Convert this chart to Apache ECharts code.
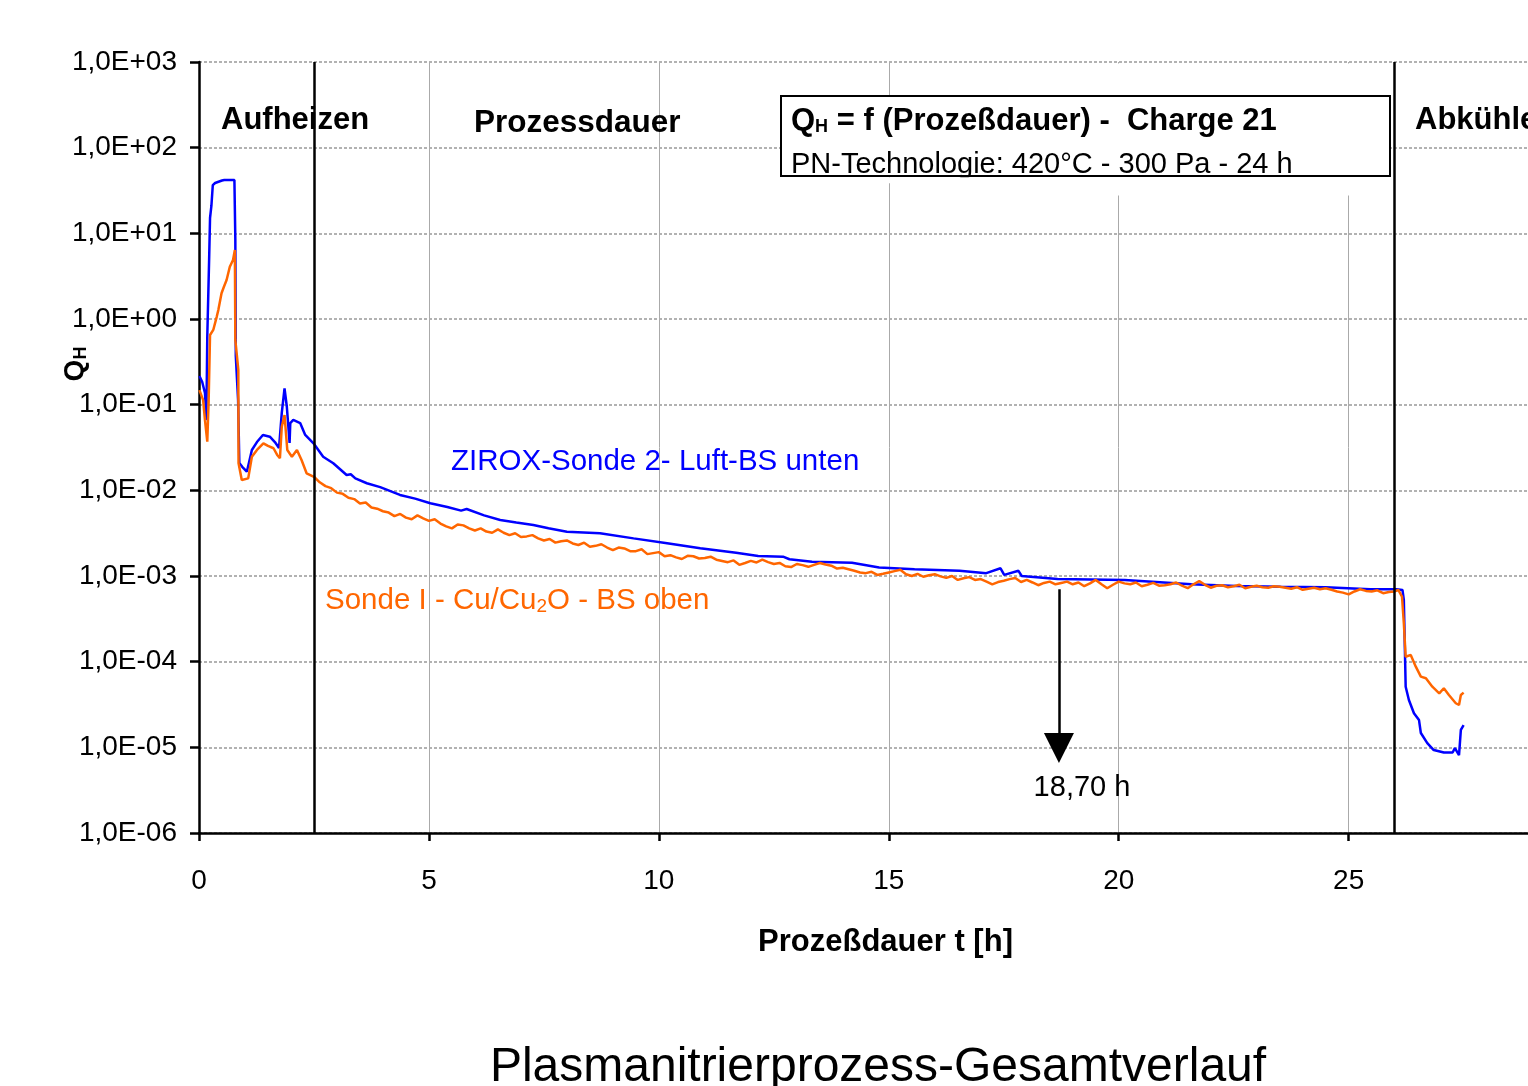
<!DOCTYPE html>
<html>
<head>
<meta charset="utf-8">
<script src="https://cdn.jsdelivr.net/npm/echarts@6/dist/echarts.min.js"></script>
<style>html,body{margin:0;padding:0;background:#fff;}#c{width:1528px;height:1086px;}</style>
</head>
<body>
<div id="c"></div>
<script>
// ---- Data (Q_H vs process time t [h]) ----
const tBlue = [0.01,0.07,0.13,0.16,0.18,0.22,0.24,0.27,0.30,0.35,0.50,0.55,0.65,0.77,0.79,0.80,0.85,0.877,0.94,1.04,1.09,1.15,1.26,1.39,1.54,1.65,1.74,1.77,1.80,1.86,1.91,1.97,1.985,2.05,2.20,2.31,2.49,2.70,2.92,3.21,3.30,3.40,3.65,3.94,4.37,4.70,5.03,5.40,5.70,5.82,6.20,6.55,6.90,7.27,7.60,8.00,8.72,9.45,10.18,10.90,11.68,12.16,12.70,12.84,13.33,14.20,14.79,15.56,16.54,17.12,17.43,17.51,17.82,17.89,18.67,20.13,21.58,22.56,23.52,24.50,25.47,26.04,26.17,26.20,26.24,26.31,26.42,26.53,26.57,26.71,26.85,27.07,27.26,27.31,27.40,27.44,27.50];
const qBlue = [0.216,0.184,0.137,0.066,0.62,4.9,15.1,21,36.6,38.7,41.4,42,42,42,8.4,0.37,0.113,0.0209,0.0188,0.0165,0.0214,0.0296,0.0366,0.0443,0.0423,0.0366,0.0312,0.0296,0.080,0.155,0.0946,0.0357,0.061,0.0663,0.061,0.0443,0.0354,0.0247,0.0207,0.0151,0.0154,0.0138,0.0121,0.0109,0.00883,0.0080,0.00706,0.0064,0.0058,0.00605,0.0051,0.00451,0.0042,0.00394,0.0036,0.00329,0.00315,0.00275,0.00241,0.00211,0.00187,0.00171,0.00168,0.00157,0.00147,0.00143,0.00126,0.0012,0.00115,0.00108,0.00123,0.00103,0.00115,0.001,0.000923,0.000898,0.0008,0.000764,0.00075,0.000738,0.0007,0.0007,0.000687,0.000525,5.1e-5,3.57e-5,2.5e-5,2.08e-5,1.47e-5,1.12e-5,9.3e-6,8.7e-6,8.7e-6,9.8e-6,8.1e-6,1.6e-5,1.82e-5];

const tOrange = [0.01,0.09,0.13,0.18,0.21,0.24,0.31,0.385,0.42,0.49,0.54,0.60,0.67,0.74,0.78,0.79,0.855,0.86,0.93,1.07,1.15,1.26,1.40,1.50,1.62,1.70,1.76,1.80,1.86,1.92,2.02,2.13,2.23,2.34,
  2.5,2.625,2.75,2.875,3,3.125,3.25,3.375,3.5,3.625,3.75,3.875,4,4.125,4.25,4.375,4.5,4.625,4.75,4.875,
  5,5.125,5.25,5.375,5.5,5.625,5.75,5.875,6,6.125,6.25,6.375,6.5,6.625,6.75,6.875,7,7.125,7.25,7.375,7.5,7.625,7.75,7.875,
  8,8.125,8.25,8.375,8.5,8.625,8.75,8.875,9,9.125,9.25,9.375,9.5,9.625,9.75,9.875,10,10.125,10.25,10.375,10.5,10.625,10.75,10.875,
  11,11.125,11.25,11.375,11.5,11.625,11.75,11.875,12,12.125,12.25,12.375,12.5,12.625,12.75,12.875,13,13.125,13.25,13.375,13.5,13.625,13.75,13.875,
  14,14.125,14.25,14.375,14.5,14.625,14.75,14.875,15,15.125,15.25,15.375,15.5,15.625,15.75,15.875,16,16.125,16.25,16.375,16.5,16.625,16.75,16.875,
  17,17.125,17.25,17.375,17.5,17.625,17.75,17.875,18,18.125,18.25,18.375,18.5,18.625,18.75,18.875,19,19.125,19.25,19.375,19.5,19.625,19.75,19.875,
  20,20.125,20.25,20.375,20.5,20.625,20.75,20.875,21,21.125,21.25,21.375,21.5,21.625,21.75,21.875,22,22.125,22.25,22.375,22.5,22.625,22.75,22.875,
  23,23.125,23.25,23.375,23.5,23.625,23.75,23.875,24,24.125,24.25,24.375,24.5,24.625,24.75,24.875,25,25.125,25.25,25.375,25.5,25.625,25.75,25.875,26,
  26.08,26.16,26.20,26.24,26.35,26.46,26.57,26.68,26.82,26.97,27.07,27.18,27.33,27.40,27.44,27.50];
const qOrange = [0.148,0.113,0.066,0.037,0.113,0.65,0.745,1.06,1.27,2.0,2.36,2.85,4.08,4.89,6.4,0.569,0.254,0.0207,0.0132,0.0138,0.0247,0.0296,0.0354,0.033,0.031,0.0259,0.0237,0.0553,0.0758,0.0296,0.0247,0.0296,0.0226,0.0158,
  14.4e-3,12.4e-3,11.2e-3,10.6e-3,9.4e-3,9.1e-3,8.2e-3,7.9e-3,7.0e-3,7.2e-3,6.3e-3,6.1e-3,5.7e-3,5.5e-3,5.0e-3,5.3e-3,4.8e-3,4.6e-3,5.1e-3,4.7e-3,
  4.4e-3,4.6e-3,4.1e-3,3.8e-3,3.6e-3,4.0e-3,3.9e-3,3.6e-3,3.4e-3,3.6e-3,3.3e-3,3.2e-3,3.5e-3,3.2e-3,3.0e-3,3.15e-3,2.85e-3,2.9e-3,3.0e-3,2.75e-3,2.6e-3,2.7e-3,2.45e-3,2.55e-3,
  2.6e-3,2.4e-3,2.3e-3,2.45e-3,2.2e-3,2.25e-3,2.35e-3,2.15e-3,2.0e-3,2.15e-3,2.1e-3,1.95e-3,1.95e-3,2.05e-3,1.8e-3,1.85e-3,1.9e-3,1.7e-3,1.75e-3,1.65e-3,1.58e-3,1.72e-3,1.7e-3,1.6e-3,
  1.62e-3,1.68e-3,1.55e-3,1.5e-3,1.45e-3,1.52e-3,1.35e-3,1.42e-3,1.5e-3,1.44e-3,1.55e-3,1.45e-3,1.38e-3,1.42e-3,1.3e-3,1.27e-3,1.38e-3,1.34e-3,1.28e-3,1.35e-3,1.42e-3,1.36e-3,1.32e-3,1.22e-3,
  1.25e-3,1.2e-3,1.15e-3,1.1e-3,1.08e-3,1.12e-3,1.03e-3,1.06e-3,1.1e-3,1.14e-3,1.18e-3,1.05e-3,1.0e-3,1.06e-3,0.98e-3,1.02e-3,1.05e-3,0.99e-3,0.95e-3,1.0e-3,0.9e-3,0.94e-3,0.97e-3,0.9e-3,
  0.92e-3,0.86e-3,0.8e-3,0.85e-3,0.88e-3,0.92e-3,0.95e-3,0.85e-3,0.9e-3,0.84e-3,0.78e-3,0.83e-3,0.86e-3,0.8e-3,0.83e-3,0.86e-3,0.8e-3,0.84e-3,0.76e-3,0.82e-3,0.9e-3,0.8e-3,0.72e-3,0.79e-3,
  0.86e-3,0.82e-3,0.8e-3,0.84e-3,0.76e-3,0.79e-3,0.83e-3,0.77e-3,0.78e-3,0.8e-3,0.84e-3,0.77e-3,0.72e-3,0.8e-3,0.87e-3,0.79e-3,0.73e-3,0.77e-3,0.78e-3,0.74e-3,0.76e-3,0.79e-3,0.72e-3,0.75e-3,
  0.77e-3,0.74e-3,0.73e-3,0.76e-3,0.75e-3,0.73e-3,0.71e-3,0.74e-3,0.69e-3,0.71e-3,0.73e-3,0.7e-3,0.72e-3,0.69e-3,0.66e-3,0.64e-3,0.61e-3,0.66e-3,0.7e-3,0.67e-3,0.66e-3,0.68e-3,0.63e-3,0.65e-3,0.66e-3,
  0.000687,0.000574,0.000281,0.000114,0.00012,8.75e-5,6.68e-5,6.4e-5,5.1e-5,4.27e-5,4.89e-5,4.08e-5,3.27e-5,3.12e-5,4.08e-5,4.35e-5];

const yTickLabels = ['1,0E-06','1,0E-05','1,0E-04','1,0E-03','1,0E-02','1,0E-01','1,0E+00','1,0E+01','1,0E+02','1,0E+03'];
const phaseBounds = [2.5, 26];          // Aufheizen | Prozessdauer | Abkühlen
const markTime = 18.70;                 // arrow marker
const arrowFrom = 7.0e-4, arrowTo = 9.8e-6;

const seriesNames = ['ZIROX-Sonde 2- Luft-BS unten', 'Sonde I - Cu/Cu2O - BS oben'];

const FONT = '"Liberation Sans", Arial, sans-serif';
const chart = echarts.init(document.getElementById('c'), null, {renderer: 'canvas'});

const option = {
  animation: false,
  backgroundColor: '#fff',
  grid: {left: 199, top: 62, right: 0, height: 771, containLabel: false},
  xAxis: {
    type: 'value', min: 0, max: 28.9, interval: 5,
    name: 'Prozeßdauer t [h]', nameLocation: 'middle', nameGap: 94,
    nameTextStyle: {fontFamily: FONT, fontSize: 31, fontWeight: 'bold', color: '#000', padding: [0, 0, 0, 44]},
    axisLine: {show: true, lineStyle: {color: '#000', width: 2.5}},
    axisTick: {show: true, inside: false, length: 8, lineStyle: {color: '#000', width: 2.5}},
    axisLabel: {fontFamily: FONT, fontSize: 28, color: '#000', margin: 34, showMaxLabel: false,
      formatter: v => (Math.abs(v % 5) < 1e-9 ? String(v) : '')},
    splitLine: {show: true, lineStyle: {color: '#aaa', width: 1}}
  },
  yAxis: {
    type: 'log', logBase: 10, min: 1e-6, max: 1e3, interval: 1,
    axisLine: {show: true, lineStyle: {color: '#000', width: 2.5}},
    axisTick: {show: true, inside: false, length: 9, lineStyle: {color: '#000', width: 2.5}},
    axisLabel: {fontFamily: FONT, fontSize: 28, color: '#000', margin: 22,
      formatter: v => yTickLabels[Math.round(Math.log10(v)) + 6]},
    splitLine: {show: true, lineStyle: {color: '#999', width: 1.5, type: [3, 2]}},
    minorTick: {show: false}
  },
  series: [
    {
      name: seriesNames[0], type: 'line', symbol: 'none', z: 3,
      lineStyle: {color: '#0000ff', width: 2.5}, itemStyle: {color: '#0000ff'},
      data: tBlue.map((t, i) => [t, qBlue[i]]),
      markLine: {
        silent: true, symbol: ['none', 'none'], label: {show: false},
        lineStyle: {color: '#000', width: 2.5, type: 'solid'},
        data: phaseBounds.map(x => ({xAxis: x}))
      }
    },
    {
      name: seriesNames[1], type: 'line', symbol: 'none', z: 4,
      lineStyle: {color: '#ff6600', width: 2.5}, itemStyle: {color: '#ff6600'},
      data: tOrange.map((t, i) => [t, qOrange[i]]),
      markLine: {
        silent: true, symbol: ['none', 'triangle'], symbolSize: 30, label: {show: false},
        itemStyle: {color: '#000'},
        lineStyle: {color: '#000', width: 2.5, type: 'solid'},
        data: [[{coord: [markTime, arrowFrom]}, {coord: [markTime, arrowTo]}]]
      }
    }
  ],
  graphic: [
    // white area masking the grid behind the info box
    {type: 'rect', z: 50, shape: {x: 1000, y: 63.5, width: 390, height: 132}, style: {fill: '#fff'}},
    {type: 'rect', z: 51, shape: {x: 781, y: 96, width: 609, height: 80}, style: {fill: '#fff', stroke: '#000', lineWidth: 2}},
    {type: 'text', z: 52, left: 791, top: 106, style: {
      text: '{a|Q}{s|H}{a| = f (Prozeßdauer) -  Charge 21}',
      rich: {
        a: {fontFamily: FONT, fontSize: 31, fontWeight: 'bold', fill: '#000'},
        s: {fontFamily: FONT, fontSize: 18, fontWeight: 'bold', fill: '#000', padding: [12, 0, 0, 0]}
      }
    }},
    {type: 'text', z: 52, x: 791, y: 165, style: {text: 'PN-Technologie: 420°C - 300 Pa - 24 h',
      font: '29px ' + FONT, fill: '#000', textVerticalAlign: 'middle'}},
    {type: 'rect', z: 53, shape: {x: 782, y: 177.2, width: 520, height: 6}, style: {fill: '#fff'}},
    // phase labels
    {type: 'text', z: 52, x: 221, y: 120, style: {text: 'Aufheizen', font: 'bold 31px ' + FONT, fill: '#000', textVerticalAlign: 'middle'}},
    {type: 'text', z: 52, x: 474, y: 123, style: {text: 'Prozessdauer', font: 'bold 31.5px ' + FONT, fill: '#000', textVerticalAlign: 'middle'}},
    {type: 'text', z: 52, x: 1415, y: 120, style: {text: 'Abkühlen', font: 'bold 31px ' + FONT, fill: '#000', textVerticalAlign: 'middle'}},
    // series labels
    {type: 'text', z: 52, x: 451, y: 462, style: {text: seriesNames[0], font: '29.5px ' + FONT, fill: '#0000ff', textVerticalAlign: 'middle'}},
    {type: 'text', z: 52, left: 325, top: 586, style: {
      text: '{a|Sonde I - Cu/Cu}{s|2}{a|O - BS oben}',
      rich: {
        a: {fontFamily: FONT, fontSize: 29.5, fill: '#ff6600'},
        s: {fontFamily: FONT, fontSize: 19, fill: '#ff6600', padding: [12, 0, 0, 0]}
      }
    }},
    // arrow label
    {type: 'text', z: 52, x: 1082, y: 788, style: {text: '18,70 h', font: '29px ' + FONT, fill: '#000', textAlign: 'center', textVerticalAlign: 'middle'}},
    // y axis name
    {type: 'text', z: 52, x: 75, y: 364, rotation: Math.PI / 2, style: {
      text: '{a|Q}{s|H}', textAlign: 'center', textVerticalAlign: 'middle',
      rich: {
        a: {fontFamily: FONT, fontSize: 28, fontWeight: 'bold', fill: '#000'},
        s: {fontFamily: FONT, fontSize: 18, fontWeight: 'bold', fill: '#000', padding: [12, 0, 0, 0]}
      }
    }},
    // bottom title
    {type: 'text', z: 52, x: 878, y: 1068, style: {text: 'Plasmanitrierprozess-Gesamtverlauf', font: '48px ' + FONT, fill: '#000', textAlign: 'center', textVerticalAlign: 'middle'}}
  ]
};
chart.setOption(option);
</script>
</body>
</html>
